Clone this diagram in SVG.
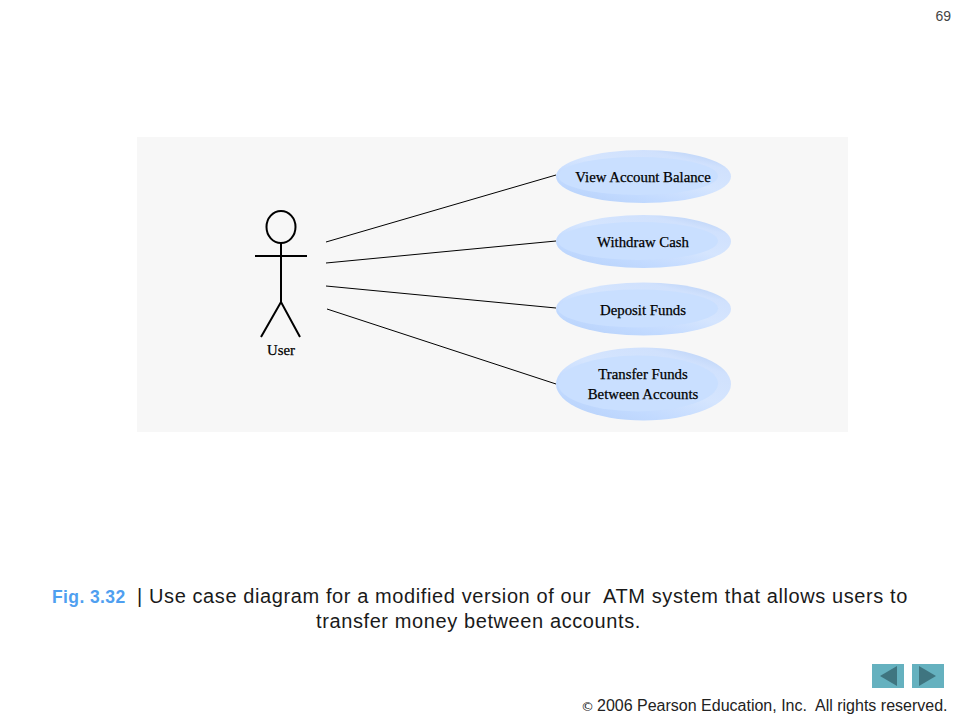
<svg xmlns="http://www.w3.org/2000/svg" width="960" height="720" viewBox="0 0 960 720">
<defs>
<linearGradient id="rim" x1="0.15" y1="0.95" x2="0.85" y2="0.05"><stop offset="0" stop-color="#b9d3fb"/><stop offset="0.22" stop-color="#c2daff"/><stop offset="0.55" stop-color="#d5e5fe"/><stop offset="0.85" stop-color="#d0e1fd"/><stop offset="1" stop-color="#bcd3f7"/></linearGradient>
</defs>
<style>
.uc{font-family:"Liberation Serif","DejaVu Serif",serif;font-size:14.800px;fill:#000;text-anchor:middle;stroke:#000;stroke-width:0.25}
.cap{font-family:"Liberation Sans",Arial,sans-serif;font-size:20px;letter-spacing:0.6px;fill:#1a1a1a}
.rim{fill:url(#rim)}
.core{fill:#c9dfff}
.conn{stroke:#000;stroke-width:1;fill:none}
.fig{stroke:#000;stroke-width:2;fill:none}
.foot{font-family:"Liberation Sans",Arial,sans-serif;font-size:16px;fill:#222}
</style>
<rect width="960" height="720" fill="#fff"/>
<rect x="137" y="137" width="711" height="295" fill="#f7f7f7"/>
<g id="connectors">
<line class="conn" x1="326" y1="242" x2="556" y2="175"/>
<line class="conn" x1="326" y1="263" x2="556" y2="241"/>
<line class="conn" x1="326" y1="286" x2="556" y2="308"/>
<line class="conn" x1="327" y1="309" x2="556" y2="384"/>
</g>
<g id="actor-user">
<ellipse class="fig" cx="281" cy="227" rx="14.500" ry="16"/>
<line class="fig" x1="281" y1="243" x2="281" y2="302"/>
<line class="fig" x1="255" y1="256" x2="307" y2="256"/>
<polyline class="fig" points="261,337 281,302 300,337"/>
<text class="uc" x="281" y="355">User</text>
</g>
<g id="uc-view">
<ellipse class="rim" cx="643.500" cy="176.500" rx="87.500" ry="26.500"/>
<ellipse class="core" cx="638" cy="176" rx="80" ry="19"/>
<text class="uc" x="643" y="182">View Account Balance</text>
</g>
<g id="uc-withdraw">
<ellipse class="rim" cx="643.500" cy="241.500" rx="87.500" ry="26.500"/>
<ellipse class="core" cx="638" cy="241" rx="80" ry="19"/>
<text class="uc" x="643" y="247">Withdraw Cash</text>
</g>
<g id="uc-deposit">
<ellipse class="rim" cx="643.500" cy="309" rx="87.500" ry="26.500"/>
<ellipse class="core" cx="638" cy="308.500" rx="80" ry="19"/>
<text class="uc" x="643" y="315">Deposit Funds</text>
</g>
<g id="uc-transfer">
<ellipse class="rim" cx="643.500" cy="384" rx="87.500" ry="36.500"/>
<ellipse class="core" cx="638" cy="383.500" rx="80" ry="28"/>
<text class="uc" x="643" y="379">Transfer Funds</text>
<text class="uc" x="643" y="399">Between Accounts</text>
</g>
<text x="951" y="21" text-anchor="end" font-family="Liberation Sans,Arial,sans-serif" font-size="14" fill="#444">69</text>
<text class="cap" y="603"><tspan x="52" fill="#4f9ff0" font-weight="bold" font-size="17.500px" letter-spacing="0.4">Fig. 3.32</tspan><tspan x="137">|</tspan><tspan x="149">Use case diagram for a modified version of our</tspan><tspan x="603">ATM system that allows users to</tspan></text>
<text class="cap" x="478.500" y="628" text-anchor="middle">transfer money between accounts.</text>
<rect x="872" y="664" width="32" height="24" fill="#65b1bf"/>
<polygon points="880,676 897,666 897,686" fill="#3f7580"/>
<rect x="912" y="664" width="32" height="24" fill="#65b1bf"/>
<polygon points="919,666 936,676 919,686" fill="#3f7580"/>
<text class="foot" y="711"><tspan x="581" font-family="DejaVu Sans,sans-serif" font-size="13">©</tspan><tspan x="597">2006 Pearson Education, Inc.</tspan><tspan x="815">All rights reserved.</tspan></text>
</svg>
